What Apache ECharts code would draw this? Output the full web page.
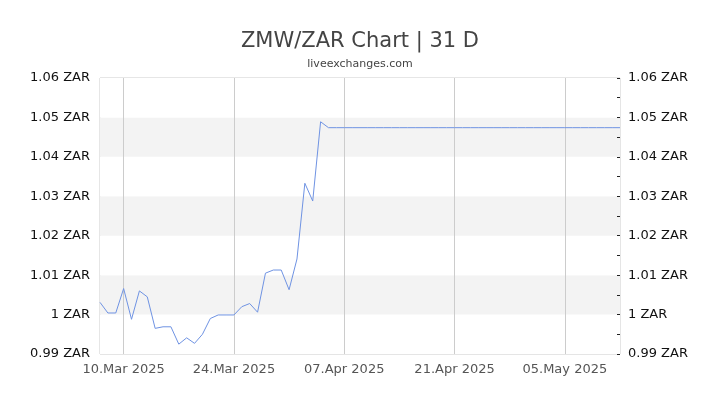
<!DOCTYPE html>
<html>
<head>
<meta charset="utf-8">
<script src="https://cdn.jsdelivr.net/npm/echarts@6/dist/echarts.min.js"></script>
<style>
  html, body { margin: 0; padding: 0; background: #fff; }
  #chart { width: 720px; height: 405px; }
</style>
</head>
<body>
<div id="chart"></div>
<script>
// daily categories, 07.Mar 2025 .. 12.May 2025
var months = ['Jan', 'Feb', 'Mar', 'Apr', 'May', 'Jun', 'Jul', 'Aug', 'Sep', 'Oct', 'Nov', 'Dec'];
var dates = [];
for (var d = new Date(Date.UTC(2025, 2, 7)); d <= new Date(Date.UTC(2025, 4, 12)); d.setUTCDate(d.getUTCDate() + 1)) {
  var dd = d.getUTCDate();
  dates.push((dd < 10 ? '0' : '') + dd + '.' + months[d.getUTCMonth()] + ' ' + d.getUTCFullYear());
}

// ZMW/ZAR rate, one value per day
var rates = [
  1.0031, 1.0004, 1.0004, 1.0066, 0.9988, 1.0060, 1.0045, 0.9965, 0.9969, 0.9969,
  0.9925, 0.9941, 0.9927, 0.9950, 0.9990, 0.9999, 0.9999, 0.9999, 1.0020, 1.0028,
  1.0006, 1.0105, 1.0113, 1.0113, 1.0063, 1.0141, 1.0333, 1.0288, 1.0489, 1.0474,
  1.0474, 1.0474, 1.0474, 1.0474, 1.0474, 1.0474, 1.0474, 1.0474, 1.0474, 1.0474,
  1.0474, 1.0474, 1.0474, 1.0474, 1.0474, 1.0474, 1.0474, 1.0474, 1.0474, 1.0474,
  1.0474, 1.0474, 1.0474, 1.0474, 1.0474, 1.0474, 1.0474, 1.0474, 1.0474, 1.0474,
  1.0474, 1.0474, 1.0474, 1.0474, 1.0474, 1.0474, 1.0474
];

var yMin = 0.99, yMax = 1.06;

function zarLabel(v) {
  return parseFloat(v.toFixed(2)) + ' ZAR';
}

var myChart = echarts.init(document.getElementById('chart'));
var option = {
  animation: false,
  textStyle: { fontFamily: 'DejaVu Sans' },
  title: {
    text: 'ZMW/ZAR Chart | 31 D',
    subtext: 'liveexchanges.com',
    left: 'center',
    top: 26,
    itemGap: 7,
    textStyle: { fontSize: 21, fontWeight: 'normal', color: '#444', fontFamily: 'DejaVu Sans' },
    subtextStyle: { fontSize: 11, color: '#444', fontFamily: 'DejaVu Sans' }
  },
  grid: {
    left: 100, right: 100, top: 78, bottom: 51,
    show: true, borderColor: '#ccc', borderWidth: 1
  },
  xAxis: {
    type: 'category',
    data: dates,
    boundaryGap: false,
    axisLine: { show: false },
    axisTick: { show: false },
    axisLabel: {
      interval: function (i) { return (i - 3) % 14 === 0; },
      color: '#555', fontSize: 13, margin: 9
    },
    splitLine: {
      show: true,
      interval: function (i) { return (i - 3) % 14 === 0; },
      lineStyle: { color: '#ccc', width: 1 }
    }
  },
  yAxis: [
    {
      type: 'value', position: 'left',
      min: yMin, max: yMax, interval: 0.01,
      axisLine: { show: false },
      axisTick: { show: false },
      axisLabel: { formatter: zarLabel, color: '#111', fontSize: 13, margin: 10 },
      splitLine: { show: false },
      splitArea: { show: true, areaStyle: { color: ['#ffffff', '#f3f3f3'] } }
    },
    {
      type: 'value', position: 'right',
      min: yMin, max: yMax, interval: 0.005,
      axisLine: { show: false },
      axisTick: { show: true, inside: true, length: 3, lineStyle: { color: '#222' } },
      axisLabel: {
        color: '#111', fontSize: 13, margin: 8,
        formatter: function (v) {
          return Math.round(v * 1000) % 10 === 0 ? zarLabel(v) : '';
        }
      },
      splitLine: { show: false }
    }
  ],
  series: [{
    type: 'line',
    data: rates,
    yAxisIndex: 0,
    showSymbol: false,
    lineStyle: { color: '#6f93e3', width: 1 },
    itemStyle: { color: '#6f93e3' }
  }]
};
myChart.setOption(option);
</script>
</body>
</html>
